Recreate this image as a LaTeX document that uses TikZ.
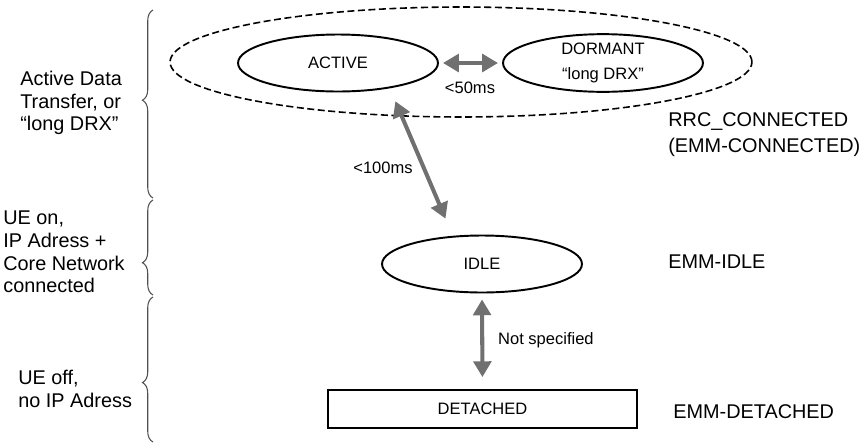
\documentclass[tikz,border=0pt]{standalone}
\usepackage{fontspec}
\setmainfont{Liberation Sans}
\usetikzlibrary{shapes.geometric, arrows.meta, decorations.pathreplacing}
\definecolor{arrowgray}{RGB}{112,112,112}
\definecolor{bracegray}{RGB}{80,80,80}

\begin{document}
\begin{tikzpicture}[x=0.02cm, y=-0.02cm,
  state/.style={draw, ellipse, line width=1.1pt, minimum width=4cm, minimum height=1.14cm, inner sep=0pt, align=center, font=\fontsize{9.4}{14.7}\selectfont},
  transition/.style={draw=arrowgray, line width=2.3pt, {Triangle[length=9pt,width=10pt]}-{Triangle[length=9pt,width=10pt]}},
  small/.style={font=\fontsize{9.4}{11}\selectfont},
  side/.style={anchor=west, inner sep=0pt, align=left, font=\fontsize{11.3}{13}\selectfont},
  region/.style={draw=bracegray, line width=0.6pt, decorate, decoration={brace, amplitude=6pt, aspect=#1}}]
\useasboundingbox (0,0) rectangle (860,444);
% States
\node [state, line width=0.9pt, dash pattern=on 4pt off 2pt, minimum width=11.64cm, minimum height=2.2cm] (rrc) at (461,62) {};
\node [state] (active) at (338,63) {ACTIVE};
\node [state] (dormant) at (603,63) {DORMANT\\“long DRX”};
\node [state] (idle) at (482,264) {IDLE};
\node [draw, line width=1.1pt, minimum width=6.18cm, minimum height=0.76cm, small] (detached) at (482.5,409) {DETACHED};
% Transitions
\draw [transition, shorten <=2.3pt, shorten >=2.3pt] (active) -- (dormant);
\draw [transition, shorten <=8pt, shorten >=10.6pt] (active.-26) -- (idle.136);
\draw [transition, shorten <=3.4pt, shorten >=6.8pt] (idle.south) -- (detached.north);
\node [small] (t50) at (470,88) {<50ms};
\node [small] (t100) at (383,168) {<100ms};
\node [small, anchor=west] (tns) at (492,340) {Not specified};
% Right labels
\node [side, font=\fontsize{11.3}{14.7}\selectfont] (rrclabel) at (668,135) {RRC\_CONNECTED\\(EMM-CONNECTED)};
\node [side] (idlelabel) at (668,262) {EMM-IDLE};
\node [side] (detlabel) at (673,412) {EMM-DETACHED};
% Left braces and labels
\draw [region=0.52] (153,198) -- (153,10);
\draw [region=0.34] (153,295) -- (153,200);
\draw [region=0.41] (153,442) -- (153,297);
\node [side] (conntext) at (20,103) {Active Data\\Transfer, or\\“long DRX”};
\node [side] (idletext) at (3,252) {UE on,\\IP Adress +\\Core Network\\connected};
\node [side] (dettext) at (18,389) {UE off,\\no IP Adress};
\end{tikzpicture}
\end{document}
